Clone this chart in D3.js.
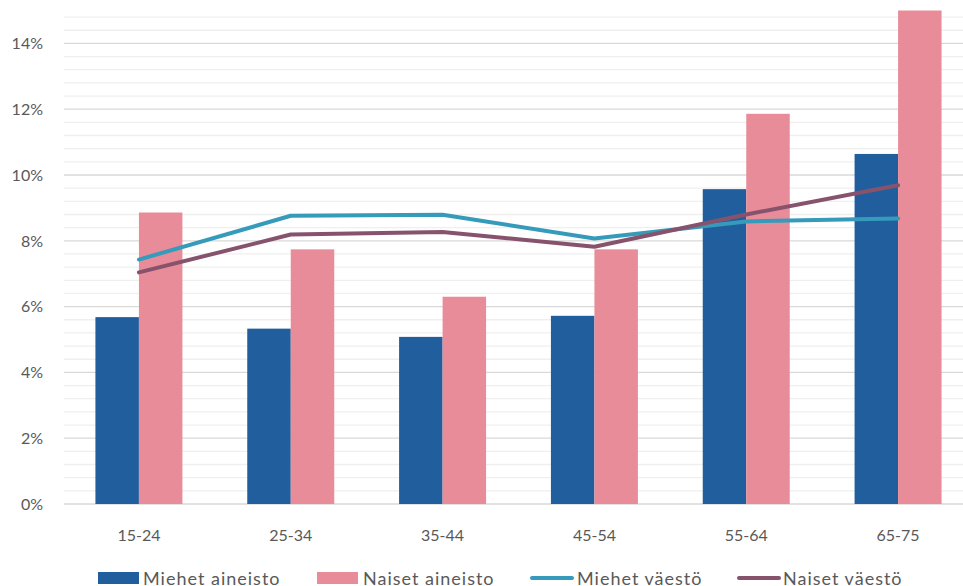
<!DOCTYPE html>
<html><head><meta charset="utf-8">
<script src="https://cdn.jsdelivr.net/npm/d3@7"></script>
<style>body{margin:0;background:#fff}svg{display:block}text{font-family:Lato,"Open Sans",sans-serif;fill:#595959}</style>
</head><body><svg id="c" width="963" height="586"></svg>
<script>
const categories = ["15-24","25-34","35-44","45-54","55-64","65-75"];
const miehetAineisto = [5.68, 5.33, 5.08, 5.72, 9.57, 10.64];
const naisetAineisto = [8.86, 7.74, 6.30, 7.74, 11.86, 15.0];
const miehetVaesto = [7.43, 8.76, 8.79, 8.07, 8.59, 8.68];
const naisetVaesto = [7.04, 8.19, 8.27, 7.82, 8.80, 9.69];
const yTicks = [0, 2, 4, 6, 8, 10, 12, 14];
const seriesNames = ["Miehet aineisto", "Naiset aineisto", "Miehet väestö", "Naiset väestö"];
const colors = ["#215E9E", "#E98C99", "#369ABA", "#87536C"];

(function(){
const svg = d3.select("#c");
const pLeft = 63, pRight = 974, pBottom = 504, pTop = 10.5;
const y = d3.scaleLinear().domain([0, 15]).range([pBottom, pTop]);
const x0 = d3.scaleBand().domain(categories).range([pLeft, pRight]).padding(0);
const step = x0.bandwidth();
const groupW = 87;
const x1 = d3.scaleBand().domain([0, 1]).range([step/2 - groupW/2, step/2 + groupW/2]).padding(0);

// gridlines
const minor = d3.range(0, 14.81, 0.4).map(v => +v.toFixed(1));
svg.append("g").selectAll("line").data(minor.filter(v => Math.abs(v/2 - Math.round(v/2)) > 1e-6))
  .join("line").attr("x1", pLeft + 1).attr("x2", 963).attr("y1", d => y(d)).attr("y2", d => y(d))
  .attr("stroke", "#efefef").attr("stroke-width", 1.3);
svg.append("g").selectAll("line").data(yTicks)
  .join("line").attr("x1", pLeft + 1).attr("x2", 963).attr("y1", d => y(d)).attr("y2", d => y(d))
  .attr("stroke", "#d9d9d9").attr("stroke-width", 1.3);

// y labels
svg.append("g").selectAll("text").data(yTicks).join("text")
  .attr("x", 43).attr("y", d => y(d)).attr("dy", "0.36em").attr("text-anchor", "end")
  .attr("font-size", 16).text(d => d + "%");

// bars
const bars = [miehetAineisto, naisetAineisto];
bars.forEach((arr, si) => {
  svg.append("g").selectAll("rect").data(arr).join("rect")
    .attr("x", (d, i) => x0(categories[i]) + x1(si))
    .attr("width", x1.bandwidth())
    .attr("y", d => y(d)).attr("height", d => y(0) - y(d))
    .attr("fill", colors[si]);
});

// lines
const line = d3.line().x((d, i) => x0(categories[i]) + step/2).y(d => y(d));
[miehetVaesto, naisetVaesto].forEach((arr, si) => {
  svg.append("path").datum(arr).attr("d", line).attr("fill", "none")
    .attr("stroke", colors[si + 2]).attr("stroke-width", 4).attr("stroke-linecap", "round").attr("stroke-linejoin", "round");
});

// x labels
svg.append("g").selectAll("text").data(categories).join("text")
  .attr("x", d => x0(d) + step/2).attr("y", 541).attr("text-anchor", "middle")
  .attr("font-size", 16).text(d => d);

// legend
const legendItems = [
  {name: seriesNames[0], type: "rect", sx: 98, tx: 143},
  {name: seriesNames[1], type: "rect", sx: 317, tx: 363},
  {name: seriesNames[2], type: "line", sx: 530, tx: 577},
  {name: seriesNames[3], type: "line", sx: 737, tx: 783}
];
legendItems.forEach((it, i) => {
  if (it.type === "rect") {
    svg.append("rect").attr("x", it.sx).attr("y", 572).attr("width", 41).attr("height", 12).attr("fill", colors[i]);
  } else {
    svg.append("line").attr("x1", it.sx + 2).attr("x2", it.sx + 42).attr("y1", 578).attr("y2", 578)
      .attr("stroke", colors[i]).attr("stroke-width", 4).attr("stroke-linecap", "round");
  }
  svg.append("text").attr("x", it.tx).attr("y", 585).attr("font-size", 18).attr("letter-spacing", 1).text(it.name);
});
})();
</script></body></html>
